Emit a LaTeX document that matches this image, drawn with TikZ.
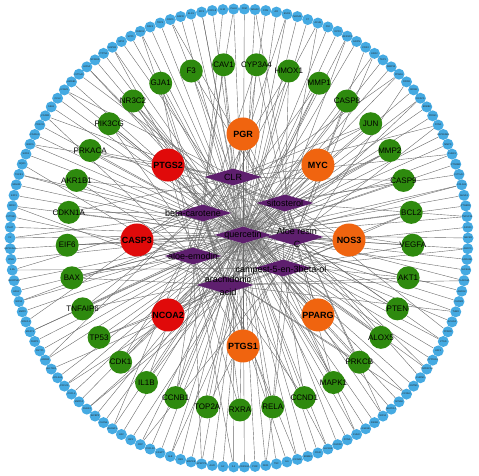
\documentclass[tikz,border=0pt]{standalone}
\usepackage{fontspec}
\setmainfont{Liberation Sans}
\usetikzlibrary{shapes.geometric}
\definecolor{ringblue}{HTML}{45AAE2}
\definecolor{ggreen}{HTML}{2E8A0E}
\definecolor{ired}{HTML}{E00A0A}
\definecolor{iorange}{HTML}{F0640F}
\definecolor{purp}{HTML}{5E1F6E}
\definecolor{edgegray}{HTML}{6A6A6A}
\pgfdeclarelayer{background}
\pgfsetlayers{background,main}
\begin{document}
\begin{tikzpicture}[x=1pt,y=1pt,
  outer/.style={circle,fill=ringblue,minimum size=11pt,inner sep=0pt,text=black!85,font=\fontsize{2.4}{3}\selectfont},
  gnode/.style={circle,fill=ggreen,minimum size=23pt,inner sep=0pt,text=black,font=\fontsize{8}{9}\selectfont},
  inode/.style={circle,minimum size=33pt,inner sep=0pt,text=black,font=\fontsize{9}{10}\selectfont\bfseries},
  cmp/.style={diamond,fill=purp,minimum width=57pt,minimum height=17pt,inner sep=0pt},
  cmplab/.style={text=black,font=\fontsize{9}{13}\selectfont,align=center,inner sep=0pt},
  edge/.style={draw=edgegray,line width=0.4pt}]
\useasboundingbox (0,0) rectangle (479,476);
% outer ring
\foreach \nm [count=\i] in {PLAU,IL10,CXCL8,IRF1,ELK1,EGFR,ODC1,TOP1,RAF1,RUNX2,SPP1,MPO,HSPB1,PTPN1,NFKBIA,HIF1A,CYP1A1,HMGB1,ICAM1,CCL2,SELE,VCAM1,PRKCD,CD40LG,BIRC5,SOD1,NQO1,TGFB1,MGAM,E2F1,NR1I2,CYP1B1,PLAT,F2,HSP90AA1,IFNG,IL1A,SERPINE1,HAS2,NOS2,MMP3,NFE2L2,MGST1,PARP1,GSTP1,ADRB2,SULT1E1,COL3A1,CXCL11,CXCL2,MMP10,CHEK2,IGFBP3,CLDN4,RASSF1,HK2,IGF2,CRP,CXCL10,CASP7,ALB,RB1,MAPK8,NPEPPS,AHR,IL2,IL4,CDKN2A,POR,DIO1,TNF,IL6,CCNA2,ERBB3,CD40,SLC2A4,DUOX2,PCNA,CHUK,GSK3B,IKBKB,NOS1,MAPK14,SCN5A,KCNH2,GSTM1,CHRM1,TNFRSF1A,CYP19A1,HSF1,CTSD,PPARD,ACACA,THBD,CHRM2,ABCG2,PLA2G4A,SLC6A4,ADRA1B,ABCC1,ABCB1,GSTA1,TNFSF15,PTGER3,AHSA1,COL1A1,CYP1A2,CTNNB1,CHEK1,MMP9,HSP90AB1,PON1,PRSS1,ERBB2,DCAF5,NR0B2,RXRB,PPARA,MMP13,TEP1,ESR2,CDK2,IL1RN,AKR1C3,DPP4,F10,ACHE,F7,NCOA1,ESR1,AR,FOS,ADH1C,PKM}{
  \pgfmathsetmacro\ang{90+(\i-0.5)*2.686567}
  \node[outer] (o\i) at ([shift={(239,238)}]\ang:229) {\makebox[0pt]{\nm}};
}
% green ring
\foreach \nm [count=\j] in {CYP3A4,CAV1,F3,GJA1,NR3C2,PIK3CG,PRKACA,AKR1B1,CDKN1A,EIF6,BAX,TNFAIP6,TP53,CDK1,IL1B,CCNB1,TOP2A,RXRA,RELA,CCND1,MAPK1,PRKCB,ALOX5,PTEN,AKT1,VEGFA,BCL2,CASP9,MMP2,JUN,CASP8,MMP1,HMOX1}{
  \pgfmathsetmacro\ang{84.545+(\j-1)*10.90909}
  \node[gnode] (g\j) at ([shift={(240,239)}]\ang:173) {\makebox[0pt]{\nm}};
}
% inner ring
\foreach \nm/\col [count=\k] in {NOS3/iorange,MYC/iorange,PGR/iorange,PTGS2/ired,CASP3/ired,NCOA2/ired,PTGS1/iorange,PPARG/iorange}{
  \pgfmathsetmacro\ang{(\k-1)*45}
  \node[inode,fill=\col] (n\k) at ([shift={(243,236)}]\ang:106) {\makebox[0pt]{\nm}};
}
% compounds
\node[cmp] (c0) at (233,299) {};
\node[cmp] (c1) at (285,273) {};
\node[cmp] (c2) at (203,263) {};
\node[cmp] (c3) at (295,239) {};
\node[cmp] (c4) at (193,220) {};
\node[cmp] (c5) at (283,208) {};
\node[cmp] (c6) at (225,191) {};
\node[cmp] (q) at (243,241) {};
\node[cmplab] (c0L) at (233,299) {CLR};
\node[cmplab] (c1L) at (285,273) {sitosterol};
\node[cmplab] (c2L) at (193,263) {beta-carotene};
\node[cmplab] (c3L) at (297,238) {Aloe resin\\C};
\node[cmplab] (c4L) at (193,220) {aloe-emodin};
\node[cmplab] (c5L) at (281,206) {campest-5-en-3beta-ol};
\node[cmplab] (c6L) at (228,190) {arachidonic\\acid};
\node[cmplab] (qL) at (243,241) {quercetin};
% edges
\begin{pgfonlayer}{background}
\foreach \i in {1,...,134}{
  \pgfmathtruncatemacro\m{mod(\i,5)}
  \pgfmathtruncatemacro\k{mod(\i,7)}
  \pgfmathtruncatemacro\r{mod(\i,3)}
  \pgfmathtruncatemacro\kk{mod(\i+3,7)}
  \ifnum\m=2 \draw[edge] (o\i) -- (c\k); \else \draw[edge] (o\i) -- (q); \fi
  \ifnum\r=1 \draw[edge] (o\i) -- (c\kk); \fi
}
\foreach \j in {1,...,33}{
  \pgfmathtruncatemacro\k{mod(\j,7)}
  \pgfmathtruncatemacro\kk{mod(3*\j+1,7)}
  \draw[edge] (g\j) -- (q);
  \draw[edge] (g\j) -- (c\k);
  \ifnum\kk=\k\else \draw[edge] (g\j) -- (c\kk); \fi
}
\foreach \k in {1,...,8}{
  \pgfmathtruncatemacro\a{mod(\k,7)}
  \pgfmathtruncatemacro\b{mod(\k+2,7)}
  \pgfmathtruncatemacro\c{mod(\k+4,7)}
  \draw[edge] (n\k) -- (q);
  \draw[edge] (n\k) -- (c\a);
  \draw[edge] (n\k) -- (c\b);
  \draw[edge] (n\k) -- (c\c);
}
\end{pgfonlayer}
\end{tikzpicture}
\end{document}
